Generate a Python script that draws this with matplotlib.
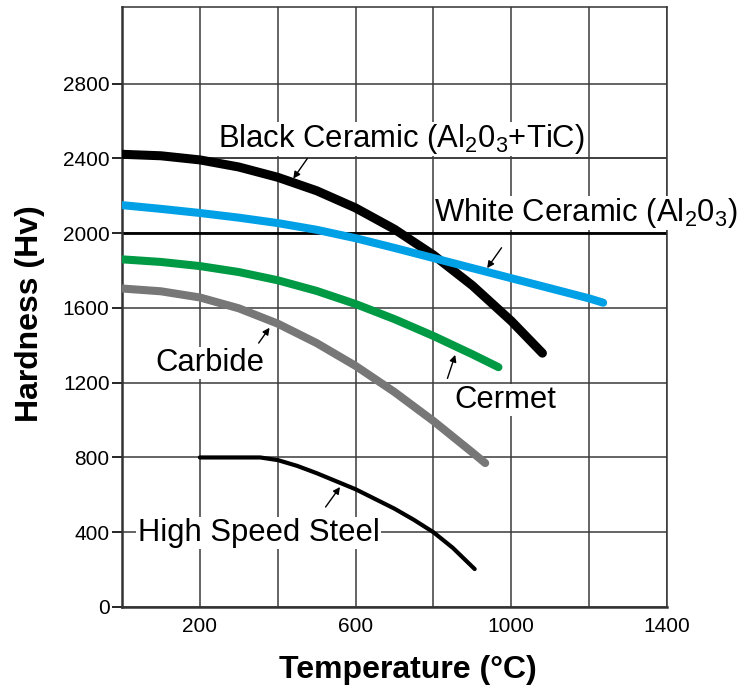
import matplotlib
matplotlib.use('Agg')
import matplotlib.pyplot as plt

plt.rcParams['font.family'] = ['Liberation Sans', 'DejaVu Sans']

# Hardness vs temperature
black_x = [0, 100, 200, 300, 400, 500, 600, 700, 800, 900, 1000, 1080]
black_y = [2422, 2414, 2392, 2354, 2299, 2227, 2135, 2021, 1883, 1720, 1530, 1358]

white_x = [0, 100, 200, 300, 400, 500, 600, 700, 800, 900, 1000, 1100, 1200, 1236]
white_y = [2150, 2130, 2108, 2083, 2054, 2018, 1973, 1921, 1867, 1813, 1759, 1705, 1651, 1628]

cermet_x = [0, 100, 200, 300, 400, 500, 600, 700, 800, 900, 967]
cermet_y = [1860, 1846, 1824, 1792, 1748, 1691, 1621, 1540, 1450, 1352, 1283]

carbide_x = [0, 100, 200, 300, 400, 500, 600, 700, 800, 900, 933]
carbide_y = [1704, 1689, 1656, 1598, 1516, 1412, 1290, 1150, 995, 827, 770]

hss_x = [200, 300, 355, 400, 450, 500, 600, 700, 750, 800, 850, 906]
hss_y = [800, 800, 800, 786, 755, 716, 630, 526, 466, 400, 316, 203]

xticks = [0, 200, 400, 600, 800, 1000, 1200, 1400]
xlabels = ['', '200', '', '600', '', '1000', '', '1400']
yticks = [0, 400, 800, 1200, 1600, 2000, 2400, 2800]

W, H = 751, 689
fig = plt.figure(figsize=(W / 100, H / 100), dpi=100)
ax = fig.add_axes([122 / W, (H - 607) / H, 545 / W, 600 / H])
ax.set_xlim(0, 1400)
ax.set_ylim(0, 3210)

ax.set_xticks(xticks)
ax.set_xticklabels(xlabels, fontsize=15)
ax.set_yticks(yticks)
ax.set_yticklabels([str(v) for v in yticks], fontsize=15)
ax.tick_params(axis='x', length=0, pad=7)
ax.tick_params(axis='y', length=7, width=1.2, direction='out', pad=2)
ax.grid(True, color='#3a3a3a', linewidth=1.1, zorder=0)
ax.set_axisbelow(True)
ax.axhline(2000, color='black', linewidth=2, zorder=1)
# the 2400 line stays visible under the black ceramic label
ax.axhline(2400, color='#3a3a3a', linewidth=1.1, zorder=3.5)
for s in ['left', 'bottom']:
  ax.spines[s].set_linewidth(1.8)
  ax.spines[s].set_color('#333333')
for s in ['top', 'right']:
  ax.spines[s].set_linewidth(1.1)
  ax.spines[s].set_color('#333333')

ax.plot(black_x, black_y, color='black', lw=6.5, solid_capstyle='round',
        solid_joinstyle='round', zorder=5)
ax.plot(white_x, white_y, color='#00a0e6', lw=5.8, solid_capstyle='round',
        solid_joinstyle='round', zorder=5)
ax.plot(cermet_x, cermet_y, color='#009a44', lw=5.8, solid_capstyle='round',
        solid_joinstyle='round', zorder=5)
ax.plot(carbide_x, carbide_y, color='#777777', lw=5.8, solid_capstyle='round',
        solid_joinstyle='round', zorder=5)
ax.plot(hss_x, hss_y, color='black', lw=3, solid_capstyle='round',
        solid_joinstyle='round', zorder=5)

sub = lambda s: r'$_\mathregular{' + s + '}$'
labels = [
  ('Black Ceramic (Al' + sub('2') + '0' + sub('3') + '+TiC)', 246, 2459, 0),
  ('White Ceramic (Al' + sub('2') + '0' + sub('3') + ')', 801, 2063, 0),
  ('Carbide', 86, 1262, 0.8),
  ('Cermet', 854, 1064, 0.8),
  ('High Speed Steel', 40, 354, 0.8),
]
for txt, x, y, pad in labels:
  ax.text(x, y, txt, fontsize=22.3, ha='left', va='baseline',
          bbox=dict(facecolor='white', edgecolor='none', pad=pad),
          zorder=3, clip_on=False)

# little arrows pointing at each curve
arrows = [
  ((476, 2399), (440, 2292)),
  ((975, 1922), (938, 1813)),
  ((351, 1412), (379, 1494)),
  ((836, 1223), (856, 1349)),
  ((523, 535), (560, 642)),
]
for tail, tip in arrows:
  ax.annotate('', xy=tip, xytext=tail,
              arrowprops=dict(arrowstyle='-|>', color='black', lw=1,
                              mutation_scale=10, shrinkA=0, shrinkB=0),
              zorder=6)

fig.text(408 / W, 1 - 670 / H, 'Temperature (°C)', fontsize=23, fontweight='bold',
         ha='center', va='center')
fig.text(30 / W, 1 - 314 / H, 'Hardness (Hv)', fontsize=23, fontweight='bold',
         ha='center', va='center', rotation=90)

fig.savefig('out.png', dpi=100)
